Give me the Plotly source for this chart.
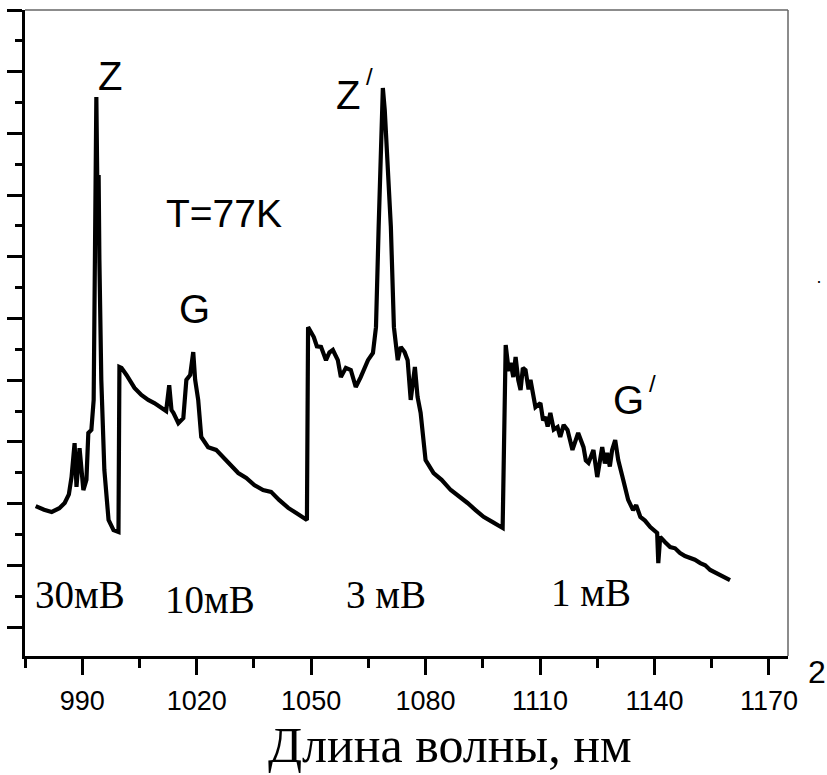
import plotly.graph_objects as go

# Wavelength (nm) and intensity (arb. units), 4 segments (30, 10, 3, 1 mV)
wavelength = [
    977.8, 980.0, 982.0, 984.0, 985.4, 986.5, 987.2, 988.0, 988.5, 989.3, 990.3, 991.1, 991.6, 992.4, 993.0,
    993.5, 993.7, 994.0, 994.3, 994.5, 995.0, 995.8, 996.9, 998.2, 999.5,
    999.75, 1000.3, 1001.6, 1003.7, 1005.5, 1007.3, 1008.9, 1010.7, 1012.0, 1012.8,
    1013.4, 1013.9, 1015.2, 1016.5, 1017.3, 1018.3, 1019.1, 1019.6, 1020.4, 1021.2,
    1023.0, 1025.1, 1026.4, 1028.5, 1030.9, 1033.0, 1035.1, 1037.4, 1039.5, 1041.6,
    1044.0, 1046.0, 1048.1, 1048.9,
    1049.2, 1050.7, 1051.5, 1052.6, 1053.9, 1054.8, 1055.7, 1057.0, 1057.8, 1059.1, 1060.4, 1061.7,
    1063.0, 1064.9, 1066.2, 1067.0, 1067.7, 1068.5, 1068.8, 1069.3, 1070.1, 1070.9,
    1071.7, 1072.7, 1073.5, 1074.5, 1075.3, 1076.1, 1077.2, 1077.9, 1078.7, 1080.0,
    1082.1, 1084.2, 1086.6, 1088.7, 1091.0, 1093.1, 1095.2, 1097.6, 1100.2,
    1101.0, 1101.8, 1102.3, 1103.0, 1103.6, 1104.3, 1104.9, 1105.5, 1106.2, 1107.0, 1107.5,
    1108.2, 1108.8, 1110.1, 1110.8, 1111.4, 1112.0, 1112.7, 1113.6,
    1114.6, 1115.3, 1116.2, 1117.2, 1118.5, 1119.3, 1120.0, 1121.4, 1122.0, 1122.7, 1124.0, 1125.0, 1125.6, 1126.3,
    1127.0, 1127.6, 1128.3, 1128.9, 1129.7, 1130.5, 1131.8, 1132.4, 1133.1, 1134.4, 1135.2, 1136.3, 1137.5,
    1138.9, 1140.7, 1141.0, 1141.5, 1142.8, 1144.1, 1145.4, 1146.7, 1148.0, 1149.3, 1150.6, 1152.0,
    1153.3, 1154.6, 1156.3, 1158.0, 1159.8,
]
intensity = [
    3.92, 3.80, 3.73, 3.85, 4.02, 4.30, 4.86, 5.96, 4.54, 5.80, 4.44, 4.77, 6.29, 6.39, 7.36,
    13.84, 17.18, 13.84, 14.65, 11.90, 8.01, 5.09, 3.47, 3.14, 3.08,
    8.43, 8.40, 8.17, 7.75, 7.52, 7.36, 7.26, 7.13, 7.00, 7.84,
    7.03, 6.94, 6.61, 6.77, 8.01, 8.17, 8.91, 8.01, 7.36, 6.16,
    5.83, 5.74, 5.58, 5.32, 4.99, 4.83, 4.60, 4.44, 4.38, 4.12,
    3.86, 3.70, 3.53, 3.47,
    9.72, 9.40, 9.10, 9.08, 8.65, 8.90, 8.98, 8.65, 8.10, 8.40, 8.33, 7.78,
    8.10, 8.65, 8.88, 9.72, 12.97, 16.21, 17.47, 16.76, 15.14, 12.97,
    9.72, 8.65, 9.08, 8.91, 8.65, 7.36, 8.43, 7.46, 6.94, 5.41,
    4.99, 4.77, 4.44, 4.25, 4.02, 3.79, 3.57, 3.40, 3.21,
    9.14, 8.30, 8.56, 8.10, 8.75, 8.00, 7.68, 8.40, 8.33, 7.70, 8.01,
    7.50, 7.13, 7.26, 6.70, 6.81, 6.50, 6.94, 6.40,
    6.48, 6.16, 6.55, 6.39, 5.74, 6.10, 6.29, 5.83, 5.40, 5.32, 5.74, 4.86, 5.40, 5.83,
    5.30, 5.64, 5.20, 5.74, 6.06, 5.41, 4.77, 4.40, 4.12, 3.79, 3.95, 3.57, 3.45,
    3.24, 3.05, 2.07, 2.92, 2.75, 2.59, 2.55, 2.40, 2.30, 2.24, 2.18, 2.07,
    2.00, 1.85, 1.75, 1.62, 1.52,
]

x_ticks = [990, 1020, 1050, 1080, 1110, 1140, 1170]

SANS = "Liberation Sans, Arial, sans-serif"
SERIF = "Liberation Serif, Times New Roman, serif"

fig = go.Figure()
fig.add_trace(go.Scatter(x=wavelength, y=intensity, mode="lines",
                         line=dict(color="black", width=4.2), showlegend=False))

# Peak labels (data coordinates)
peak_labels = [
    ("Z", 997.4, 17.85, 40), ("G", 1019.5, 10.3, 40), ("T=77K", 1027.1, 13.4, 39),
    ("Z", 1059.6, 17.24, 40), ("/", 1065.4, 17.85, 24),
    ("G", 1133.1, 7.36, 40), ("/", 1139.4, 7.9, 24),
]
for txt, xv, yv, sz in peak_labels:
    fig.add_annotation(x=xv, y=yv, text=txt, showarrow=False,
                       font=dict(family=SANS, size=sz, color="black"))

gain_labels = [("30мВ", 989.3, 1.04), ("10мВ", 1023.6, 0.88), ("3 мВ", 1069.6, 1.04), ("1 мВ", 1123.4, 1.13)]
for txt, xv, yv in gain_labels:
    fig.add_annotation(x=xv, y=yv, text=txt, showarrow=False,
                       font=dict(family=SERIF, size=39, color="black"))

# thin top/right frame
fig.add_shape(type="line", xref="paper", yref="paper", x0=0, x1=1, y0=1, y1=1,
              line=dict(color="#666", width=1.5))
fig.add_shape(type="line", xref="paper", yref="paper", x0=1, x1=1, y0=0, y1=1,
              line=dict(color="#666", width=1.5))

fig.add_annotation(xref="paper", yref="paper", x=1.0, y=0.0, xanchor="left", yanchor="top",
                   xshift=18, yshift=4, text="2", showarrow=False,
                   font=dict(family=SANS, size=32, color="black"))
fig.add_annotation(xref="paper", yref="paper", x=1.0, y=0.575, xanchor="left",
                   xshift=26, yshift=4, text="·", showarrow=False,
                   font=dict(family=SANS, size=18, color="black"))

# axis title as annotation (offset to the right like the reference)
fig.add_annotation(xref="paper", yref="paper", x=0.557, y=-0.138, yanchor="middle",
                   text="Длина волны, нм", showarrow=False,
                   font=dict(family=SERIF, size=50, color="black"))

fig.update_layout(
    width=827, height=775,
    margin=dict(l=23, r=39, t=10, b=119),
    paper_bgcolor="white", plot_bgcolor="white",
    xaxis=dict(
        range=[975, 1175], tickvals=x_ticks, ticktext=[str(v) for v in x_ticks],
        ticks="outside", ticklen=16, tickwidth=3, tickcolor="black",
        showline=True, linewidth=3, linecolor="black", showgrid=False, zeroline=False,
        tickfont=dict(family=SANS, size=27, color="black"), ticklabelstandoff=3,
        minor=dict(tick0=975, dtick=15, ticks="outside", ticklen=9, tickwidth=3, tickcolor="black"),
    ),
    yaxis=dict(
        range=[-0.94, 20], tick0=0, dtick=2, showticklabels=False,
        ticks="outside", ticklen=15, tickwidth=3, tickcolor="black",
        showline=True, linewidth=3, linecolor="black", showgrid=False, zeroline=False,
        minor=dict(tick0=0, dtick=1, ticks="outside", ticklen=7, tickwidth=3, tickcolor="black"),
    ),
)

fig.write_html("out.html")
